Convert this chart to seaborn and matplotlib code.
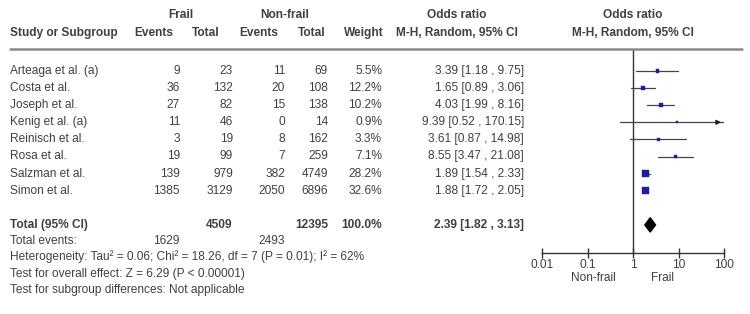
import numpy as np
import pandas as pd
import matplotlib
matplotlib.use("Agg")
import matplotlib.pyplot as plt
import seaborn as sns

# ---- data ----
studies = ["Arteaga et al. (a)", "Costa et al.", "Joseph et al.", "Kenig et al. (a)",
           "Reinisch et al.", "Rosa et al.", "Salzman et al.", "Simon et al."]
frail_events = [9, 36, 27, 11, 3, 19, 139, 1385]
frail_total = [23, 132, 82, 46, 19, 99, 979, 3129]
nonfrail_events = [11, 20, 15, 0, 8, 7, 382, 2050]
nonfrail_total = [69, 108, 138, 14, 162, 259, 4749, 6896]
weights = [5.5, 12.2, 10.2, 0.9, 3.3, 7.1, 28.2, 32.6]
odds = [3.39, 1.65, 4.03, 9.39, 3.61, 8.55, 1.89, 1.88]
ci_low = [1.18, 0.89, 1.99, 0.52, 0.87, 3.47, 1.54, 1.72]
ci_high = [9.75, 3.06, 8.16, 170.15, 14.98, 21.08, 2.33, 2.05]

total_frail, total_nonfrail = 4509, 12395
events_frail, events_nonfrail = 1629, 2493
pooled_or, pooled_low, pooled_high = 2.39, 1.82, 3.13
x_ticks = [0.01, 0.1, 1, 10, 100]
x_ticklabels = ["0.01", "0.1", "1", "10", "100"]

footer = ["Heterogeneity: Tau\u00b2 = 0.06; Chi\u00b2 = 18.26, df = 7 (P = 0.01); I\u00b2 = 62%",
          "Test for overall effect: Z = 6.29 (P < 0.00001)",
          "Test for subgroup differences: Not applicable"]

df = pd.DataFrame({"study": studies, "odds": odds, "low": ci_low, "high": ci_high,
                   "weight": weights, "row": np.arange(len(studies))})

sns.set_theme(style="white")
plt.rcParams["font.family"] = ["Liberation Sans", "DejaVu Sans"]

W, H = 750, 314
fig = plt.figure(figsize=(7.5, 3.14), dpi=100)
fig.patch.set_facecolor("white")

TXT = "#404040"
FS = 8.6
ROW0, ROWH = 71, 17.1


def fx(x):
    return x / W


def fy(y):
    return 1 - y / H


def row_y(i):
    return ROW0 + i * ROWH


def put(x, y, s, ha="left", bold=False, size=FS):
    fig.text(fx(x), fy(y), s, ha=ha, va="center", fontsize=size, color=TXT,
             fontweight="bold" if bold else "normal")


# headers
put(181, 15, "Frail", ha="center", bold=True)
put(285, 15, "Non-frail", ha="center", bold=True)
put(457, 15, "Odds ratio", ha="center", bold=True)
put(633, 15, "Odds ratio", ha="center", bold=True)
put(10, 33, "Study or Subgroup", bold=True)
put(173, 33, "Events", ha="right", bold=True)
put(220, 33, "Total", ha="right", bold=True)
put(278, 33, "Events", ha="right", bold=True)
put(325, 33, "Total", ha="right", bold=True)
put(384, 33, "Weight", ha="right", bold=True)
put(457, 33, "M-H, Random, 95% CI", ha="center", bold=True)
put(633, 33, "M-H, Random, 95% CI", ha="center", bold=True)
fig.add_artist(plt.Line2D([fx(10), fx(742)], [fy(49), fy(49)], color="#8a8a8a", lw=1.8))

# study rows
for i, s in enumerate(studies):
    y = row_y(i)
    put(10, y, s)
    put(180, y, str(frail_events[i]), ha="right")
    put(233, y, str(frail_total[i]), ha="right")
    put(285, y, str(nonfrail_events[i]), ha="right")
    put(328, y, str(nonfrail_total[i]), ha="right")
    put(382, y, f"{weights[i]:.1f}%", ha="right")
    put(524, y, f"{odds[i]:.2f} [{ci_low[i]:.2f} , {ci_high[i]:.2f}]", ha="right")

# totals
yt = row_y(9)
put(10, yt, "Total (95% CI)", bold=True)
put(233, yt, str(total_frail), ha="right", bold=True)
put(328, yt, str(total_nonfrail), ha="right", bold=True)
put(382, yt, "100.0%", ha="right", bold=True)
put(524, yt, f"{pooled_or:.2f} [{pooled_low:.2f} , {pooled_high:.2f}]", ha="right", bold=True)
put(10, 241, "Total events:")
put(180, 241, str(events_frail), ha="right")
put(285, 241, str(events_nonfrail), ha="right")
for k, line in enumerate(footer):
    put(10, 257 + k * 16.5, line)

# forest plot axes
x0, x1 = 542, 724
ytop, ybot = 49, 253
ax = fig.add_axes([fx(x0), fy(ybot), (x1 - x0) / W, (ybot - ytop) / H])
ax.set_xscale("log")
ax.set_xlim(0.01, 100)
lo_row = (ytop - ROW0) / ROWH
hi_row = (ybot - ROW0) / ROWH
ax.set_ylim(hi_row, lo_row)
ax.patch.set_alpha(0)
for side in ["top", "right", "left"]:
    ax.spines[side].set_visible(False)
ax.spines["bottom"].set_color("#333333")
ax.spines["bottom"].set_linewidth(1.0)
ax.set_yticks([])
ax.set_xticks(x_ticks)
ax.set_xticklabels(x_ticklabels)
ax.minorticks_off()
ax.tick_params(axis="x", direction="inout", length=7, width=1, color="#333333",
               labelsize=FS, labelcolor=TXT, pad=0.5, bottom=True)
ax.axvline(1, color="#333333", lw=1.0)

for _, r in df.iterrows():
    hi = min(r["high"], 100)
    ax.plot([r["low"], hi], [r["row"], r["row"]], color="#444444", lw=0.9, zorder=2)
    if r["high"] > 100:
        ax.annotate("", xy=(100, r["row"]), xytext=(60, r["row"]),
                    arrowprops=dict(arrowstyle="-|>", color="#222222", lw=0.9,
                                    mutation_scale=7))

sns.scatterplot(data=df, x="odds", y="row", size="weight", sizes=(1.5, 24),
                marker="s", color="#1f1f9c", edgecolor="#1f1f9c", linewidth=0.3,
                legend=False, ax=ax, zorder=3)
ax.set_xlabel("")
ax.set_ylabel("")

# pooled diamond
ax.fill([pooled_low, pooled_or, pooled_high, pooled_or],
        [9, 9 - 0.42, 9, 9 + 0.42], color="black", zorder=3)

put(593, 278, "Non-frail", ha="center")
put(663, 278, "Frail", ha="center")

fig.savefig("out.png", dpi=100, facecolor="white")
